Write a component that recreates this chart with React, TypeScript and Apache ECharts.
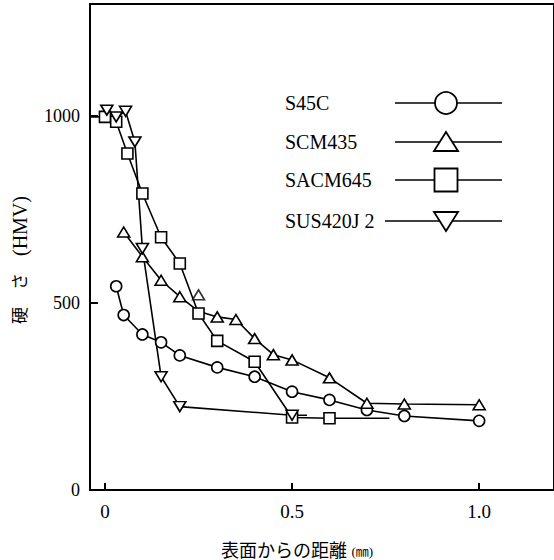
import React, { useEffect, useRef } from "react";
import * as echarts from "echarts";

const seriesNames = ["S45C", "SCM435", "SACM645", "SUS420J 2"];

const s45c: number[][] = [
  [0.03, 545], [0.05, 468], [0.1, 416], [0.15, 395], [0.2, 360], [0.3, 328],
  [0.4, 303], [0.5, 263], [0.6, 241], [0.7, 214], [0.8, 198], [1.0, 185],
];
const scm435: number[][] = [
  [0.05, 690], [0.1, 624], [0.15, 561], [0.2, 517], [0.25, 478], [0.3, 463],
  [0.35, 456], [0.4, 405], [0.45, 362], [0.5, 348], [0.6, 300], [0.7, 232],
  [0.8, 230], [1.0, 228],
];
const scm435Hidden = [0.25];
const scm435Loose: number[][] = [[0.25, 522]];
const sacm645: number[][] = [
  [-0.04, 998], [0, 998], [0.03, 985], [0.06, 900], [0.1, 793], [0.15, 676],
  [0.2, 606], [0.25, 472], [0.3, 399], [0.4, 343], [0.5, 194], [0.6, 192], [0.76, 192],
];
const sacm645Hidden = [-0.04, 0.76];
const sus420j2: number[][] = [
  [0.005, 1016], [0.03, 998], [0.055, 1013], [0.08, 931], [0.1, 646],
  [0.15, 303], [0.2, 223], [0.5, 200], [0.54, 200],
];
const sus420j2Hidden = [0.54];

const xTicks = [0, 0.5, 1.0];
const xTickLabels = ["0", "0.5", "1.0"];
const yTicks = [0, 500, 1000];
const yTickLabels = ["0", "500", "1000"];

const SERIF = '"Liberation Serif", "Times New Roman", serif';
const CJK = '"Liberation Serif", "Noto Sans CJK JP", serif';

function withHidden(data: number[][], hidden: number[]) {
  return data.map((d) =>
    hidden.includes(d[0]) ? { value: d, symbol: "none" } : { value: d }
  );
}

export default function App() {
  const ref = useRef<HTMLDivElement>(null);
  useEffect(() => {
    if (!ref.current) return;
    const chart = echarts.init(ref.current, null, { renderer: "svg" });
    const lineStyle = { color: "#000", width: 1.6 };
    const itemStyle = { color: "#fff", borderColor: "#000", borderWidth: 1.6 };
    const base = {
      type: "line" as const,
      lineStyle,
      itemStyle,
      showAllSymbol: true,
      z: 2,
    };
    const legendRows = [103, 142, 180, 221];
    const legendGraphics: any[] = [];
    seriesNames.forEach((name, i) => {
      const y = legendRows[i];
      legendGraphics.push({
        type: "text",
        x: 285,
        y,
        style: {
          text: name,
          font: `20px ${SERIF}`,
          fill: "#000",
          verticalAlign: "middle",
          align: "left",
        },
      });
      legendGraphics.push({
        type: "line",
        shape: { x1: i === 3 ? 385 : 395, y1: y, x2: 502, y2: y },
        style: { stroke: "#000", lineWidth: 1.6 },
      });
      const cx = 446;
      let sym: any;
      if (i === 0) {
        sym = { type: "circle", shape: { cx, cy: y, r: 11 } };
      } else if (i === 1) {
        sym = { type: "polygon", shape: { points: [[cx, y - 10], [cx + 12, y + 9], [cx - 12, y + 9]] } };
      } else if (i === 2) {
        sym = { type: "rect", shape: { x: cx - 11.5, y: y - 11.5, width: 23, height: 23 } };
      } else {
        sym = { type: "polygon", shape: { points: [[cx - 12, y - 9], [cx + 12, y - 9], [cx, y + 10]] } };
      }
      sym.style = { fill: "#fff", stroke: "#000", lineWidth: 1.8 };
      sym.z = 10;
      legendGraphics.push(sym);
    });

    chart.setOption({
      animation: false,
      backgroundColor: "#fff",
      grid: {
        left: 90,
        top: 4,
        width: 466,
        height: 486,
        show: true,
        borderColor: "#000",
        borderWidth: 2,
      },
      xAxis: {
        type: "value",
        min: -0.04,
        max: 1.2,
        splitLine: { show: false },
        axisLine: { show: true, onZero: false, lineStyle: { color: "#000", width: 2 } },
        axisTick: {
          show: true,
          inside: true,
          length: 7,
          customValues: xTicks,
          lineStyle: { color: "#000", width: 2 },
        },
        axisLabel: {
          customValues: xTicks,
          formatter: (v: number) => xTickLabels[xTicks.indexOf(v)] ?? "",
          color: "#000",
          fontFamily: SERIF,
          fontSize: 19,
          margin: 12,
        },
      },
      yAxis: {
        type: "value",
        min: 0,
        max: 1300,
        splitLine: { show: false },
        axisLine: { show: true, onZero: false, lineStyle: { color: "#000", width: 2 } },
        axisTick: {
          show: true,
          inside: true,
          length: 8,
          customValues: yTicks,
          lineStyle: { color: "#000", width: 2 },
        },
        axisLabel: {
          customValues: yTicks,
          formatter: (v: number) => yTickLabels[yTicks.indexOf(v)] ?? "",
          color: "#000",
          fontFamily: SERIF,
          fontSize: 18,
          margin: 10,
        },
      },
      series: [
        { ...base, name: seriesNames[0], symbol: "circle", symbolSize: 11, data: s45c },
        {
          ...base,
          name: seriesNames[1],
          symbol: "triangle",
          symbolSize: [12, 10],
          data: withHidden(scm435, scm435Hidden),
        },
        {
          type: "scatter",
          name: seriesNames[1] + " ",
          symbol: "triangle",
          symbolSize: [12, 10],
          itemStyle,
          data: scm435Loose,
          z: 3,
        },
        {
          ...base,
          name: seriesNames[2],
          symbol: "rect",
          symbolSize: 11,
          data: withHidden(sacm645, sacm645Hidden),
        },
        {
          ...base,
          name: seriesNames[3],
          symbol: "triangle",
          symbolRotate: 180,
          symbolSize: [12, 10],
          data: withHidden(sus420j2, sus420j2Hidden),
        },
      ],
      graphic: [
        ...legendGraphics,
        {
          type: "text",
          x: 297,
          y: 551,
          style: {
            text: "表面からの距離 {s|(㎜)}",
            font: `18px ${CJK}`,
            fill: "#000",
            align: "center",
            verticalAlign: "middle",
            rich: { s: { fontSize: 13, fontFamily: CJK, fill: "#000" } },
          },
        },
        {
          type: "text",
          x: 20,
          y: 260,
          rotation: Math.PI / 2,
          style: {
            text: "硬\u3000さ\u3000{h|(HMV)}",
            font: `17px ${CJK}`,
            fill: "#000",
            align: "center",
            verticalAlign: "middle",
            rich: { h: { fontSize: 20, fontFamily: SERIF, fill: "#000" } },
          },
        },
      ],
    });
    return () => chart.dispose();
  }, []);
  return (
    <div
      ref={ref}
      style={{ position: "fixed", left: 0, top: 0, width: 554, height: 560, background: "#fff" }}
    />
  );
}
